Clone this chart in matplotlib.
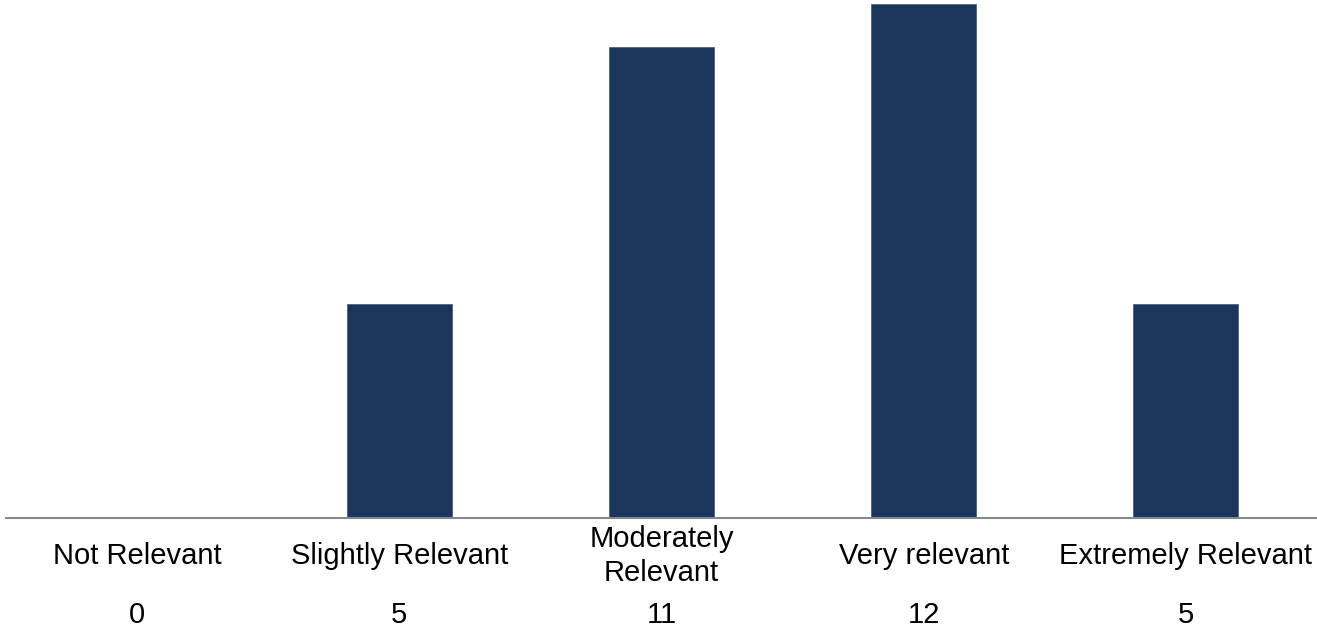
import matplotlib
matplotlib.use("Agg")
import matplotlib.pyplot as plt
from matplotlib.transforms import blended_transform_factory

categories = ["Not Relevant", "Slightly Relevant", "Moderately\nRelevant",
              "Very relevant", "Extremely Relevant"]
counts = [0, 5, 11, 12, 5]

W, H = 1317, 627
fig = plt.figure(figsize=(W / 100, H / 100), dpi=100)
plt.rcParams["font.family"] = ["Liberation Sans", "DejaVu Sans"]

# axes spans from the baseline (y=518 px) up to the tallest bar
ax = fig.add_axes([6 / W, 1 - 518 / H, 1 - 6 / W, (518 - 4) / H])
x = list(range(len(categories)))
ax.bar(x, counts, width=0.4, color="#1A365D", edgecolor="#3E5677", linewidth=0.5,
       zorder=2)
ax.set_xlim(-0.5, len(categories) - 0.5)
ax.set_ylim(0, max(counts))

for s in ("top", "left", "right"):
    ax.spines[s].set_visible(False)
ax.spines["bottom"].set_color("#898989")
ax.spines["bottom"].set_linewidth(1.5)
ax.spines["bottom"].set_zorder(3)
ax.set_xticks([])
ax.set_yticks([])

tr = blended_transform_factory(ax.transData, fig.transFigure)
for xi, cat, n in zip(x, categories, counts):
    ax.text(xi, 1 - 556 / H, cat, transform=tr, ha="center", va="center",
            fontsize=21, color="black", linespacing=1.25, multialignment="center")
    ax.text(xi, 1 - 623 / H, str(n), transform=tr, ha="center", va="baseline",
            fontsize=21, color="black")

fig.savefig("out.png", dpi=100, facecolor="white")
